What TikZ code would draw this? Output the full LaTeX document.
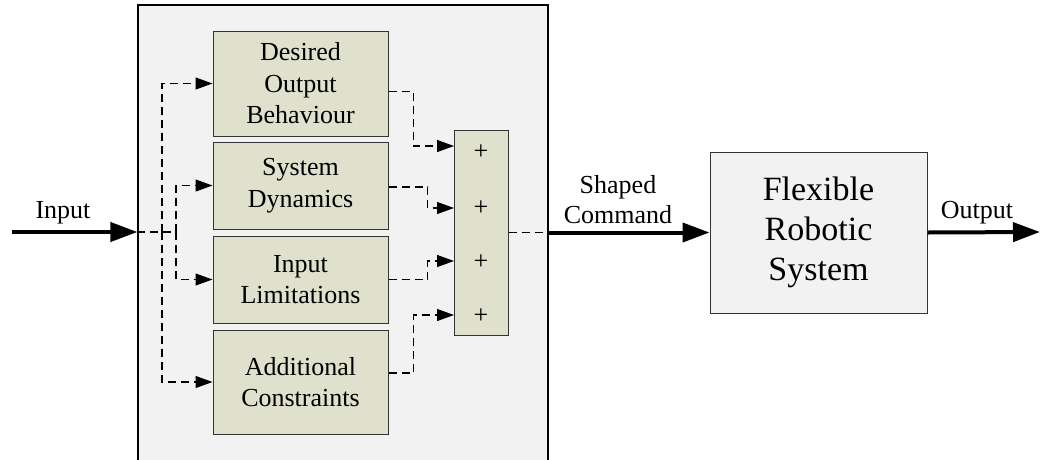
\documentclass[tikz,border=0pt]{standalone}
\usepackage{fontspec}
\setmainfont{Liberation Serif}
\usetikzlibrary{arrows.meta}

\definecolor{panelgray}{HTML}{F2F2F2}
\definecolor{blockolive}{HTML}{DFE1CD}
\definecolor{edgegray}{HTML}{333333}

\tikzset{
	blockbox/.style={draw=edgegray, line width=1pt, fill=blockolive, align=center,
		minimum width=175pt, font=\fontsize{26}{31.5}\selectfont},
	plantbox/.style={draw=edgegray, line width=1pt, fill=panelgray, align=center,
		font=\fontsize{34}{40}\selectfont},
	dashline/.style={line width=1.1pt, dash pattern=on 8pt off 5pt},
	thintip/.style={-{Triangle[length=17pt,width=12pt]}},
	flowline/.style={line width=4pt, -{Triangle[length=27pt,width=19pt]}},
	lbl/.style={inner sep=0pt, align=center, font=\fontsize{26}{30}\selectfont},
}

\begin{document}
\begin{tikzpicture}[x=1pt,y=-1pt]
	\useasboundingbox (0,0) rectangle (1042,459);

	%command shaper panel
	\node (shaper) [draw=black, line width=1.2pt, fill=panelgray, minimum width=410pt,
		minimum height=465pt, inner sep=0pt] at (343,237.5) {};

	\node (dob) [blockbox, minimum height=105pt] at (300.5,83.5) {Desired\\Output\\Behaviour};
	\node (sd) [blockbox, minimum height=87pt] at (300.5,185.5) {System\\Dynamics};
	\node (il) [blockbox, minimum height=87pt] at (300.5,279.5) {Input\\Limitations};
	\node (ac) [blockbox, minimum height=104pt] at (300.5,382) {Additional\\Constraints};

	%summing column
	\node (sum) [draw=edgegray, line width=1pt, fill=blockolive, minimum width=54pt,
		minimum height=205pt, inner sep=0pt] at (481,232.5) {};
	\foreach \y/\n in {152/1, 208/2, 262/3, 316/4}{
		\node (plus\n) [inner sep=0pt, font=\fontsize{26}{26}\selectfont] at (481,\y) {+};
	}
	\coordinate (s1) at (454,146);
	\coordinate (s2) at (454,208);
	\coordinate (s3) at (454,261);
	\coordinate (s4) at (454,315);

	\node (frs) [plantbox, minimum width=217pt, minimum height=161pt] at (818.5,232.5)
		{Flexible\\Robotic\\System};

	%input and its branches
	\coordinate (in) at (12,232);
	\coordinate (out) at (1040,232);
	\coordinate (jin) at (162,232);
	\coordinate (jout) at (176,232);
	\draw[flowline] (in) -- (in -| shaper.west);
	\node (inlbl) [lbl] at (63,213) {Input};
	\draw[dashline] (in -| shaper.west) -- (jout);
	\draw[dashline, thintip] (jin) |- (dob.west);
	\draw[dashline, thintip] (jin) |- (ac.west);
	\draw[dashline, thintip] (jout) |- (sd.west);
	\draw[dashline, thintip] (jout) |- (il.west);

	%into the summing column
	\draw[dashline, thintip] ([yshift=-8pt]dob.east) -- ++(25,0) |- (s1);
	\draw[dashline, thintip] ([yshift=-1.5pt]sd.east) -- ++(39,0) |- (s2);
	\draw[dashline, thintip] (il.east) -- ++(39,0) |- (s3);
	\draw[dashline, thintip] ([yshift=9pt]ac.east) -- ++(25,0) |- (s4);

	%shaped command and output
	\draw[dashline] (sum.east) -- (sum.east -| shaper.east);
	\draw[flowline] (sum.east -| shaper.east) -- (frs.west);
	\node (cmdlbl) [lbl] at (618,200) {Shaped\\Command};
	\draw[flowline] (frs.east) -- (out);
	\node (outlbl) [lbl] at (977,213) {Output};
\end{tikzpicture}
\end{document}
